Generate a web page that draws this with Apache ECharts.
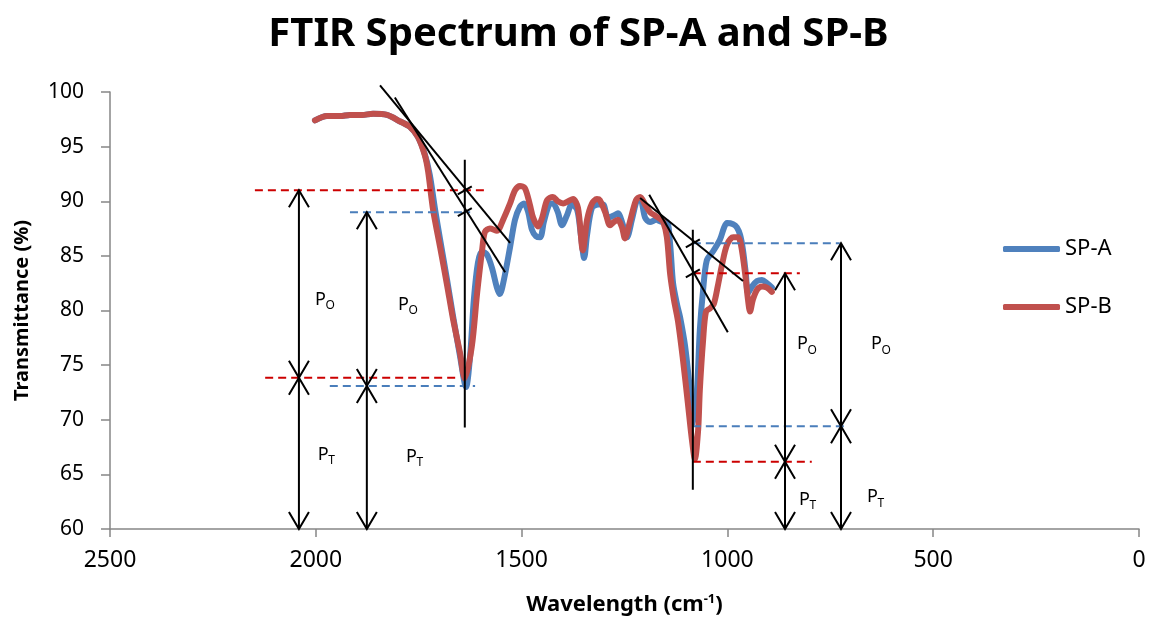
<!DOCTYPE html>
<html>
<head>
<meta charset="utf-8">
<script src="https://cdn.jsdelivr.net/npm/echarts@6/dist/echarts.min.js"></script>
<style>
  html, body { margin: 0; padding: 0; background: #ffffff; }
  #chart { width: 1157px; height: 618px; }
</style>
</head>
<body>
<div id="chart"></div>
<script>
// Spectra: [wavenumber (cm-1), transmittance (%)]
const spA = [
  [2002, 97.4], [1973, 97.8], [1941, 97.8], [1917, 97.9], [1888, 97.9], [1861, 98.0],
  [1827, 97.9], [1795, 97.3], [1771, 96.8], [1752, 95.9], [1735, 94.3], [1723, 92.4],
  [1710, 89.2], [1698, 86.5], [1681, 82.8], [1667, 79.6], [1650, 75.9], [1635, 73.0],
  [1625, 75.9], [1616, 81.0], [1606, 84.4], [1596, 85.4], [1584, 85.1], [1572, 83.9],
  [1560, 82.1], [1553, 81.5], [1543, 82.8], [1528, 85.8], [1516, 88.3], [1504, 89.5],
  [1494, 89.8], [1484, 89.0], [1475, 87.4], [1465, 86.8], [1455, 86.7], [1446, 88.1],
  [1433, 89.7], [1424, 89.8], [1412, 89.0], [1402, 87.8], [1390, 88.7], [1378, 89.7],
  [1365, 89.2], [1356, 86.9], [1348, 84.8], [1341, 86.9], [1329, 89.4], [1314, 89.7],
  [1302, 89.7], [1290, 88.5], [1276, 88.7], [1266, 88.9], [1256, 88.1], [1244, 86.7],
  [1232, 88.3], [1220, 90.1], [1212, 90.3], [1200, 88.5], [1188, 88.1], [1173, 88.3],
  [1159, 88.1], [1147, 88.1], [1139, 86.0], [1132, 82.5], [1122, 80.5], [1115, 79.4],
  [1103, 76.8], [1091, 72.7], [1084, 69.6], [1074, 72.7], [1067, 78.2], [1059, 81.9],
  [1050, 84.6], [1035, 85.4], [1018, 86.5], [1008, 87.6], [1001, 88.0], [986, 87.9],
  [977, 87.6], [969, 86.9], [962, 85.5], [955, 83.3], [950, 81.6], [940, 82.2],
  [928, 82.7], [916, 82.8], [904, 82.5], [892, 82.1]
];
const spB = [
  [2002, 97.4], [1973, 97.8], [1941, 97.8], [1917, 97.9], [1888, 97.9], [1861, 98.0],
  [1827, 97.9], [1795, 97.3], [1771, 96.8], [1752, 95.9], [1735, 94.2], [1727, 92.7],
  [1715, 89.2], [1698, 85.8], [1681, 82.3], [1667, 79.3], [1650, 76.2], [1638, 73.8],
  [1621, 76.7], [1608, 81.6], [1596, 85.5], [1589, 87.2], [1577, 87.5], [1560, 87.3],
  [1545, 88.3], [1528, 89.8], [1516, 91.0], [1504, 91.4], [1492, 91.2], [1480, 89.7],
  [1472, 88.5], [1460, 87.7], [1450, 88.5], [1438, 90.1], [1424, 90.4], [1412, 90.0],
  [1399, 89.8], [1387, 90.0], [1375, 90.2], [1363, 89.4], [1351, 85.5], [1341, 88.3],
  [1329, 89.8], [1317, 90.2], [1310, 90.1], [1297, 89.0], [1285, 87.8], [1276, 88.1],
  [1266, 88.3], [1256, 87.6], [1249, 86.6], [1237, 88.1], [1222, 90.1], [1212, 90.4],
  [1200, 89.7], [1188, 89.0], [1176, 88.7], [1164, 88.4], [1156, 88.1], [1147, 86.7],
  [1139, 83.3], [1130, 81.0], [1120, 79.0], [1108, 75.5], [1096, 71.5], [1086, 68.1],
  [1079, 66.4], [1071, 69.1], [1067, 72.7], [1059, 77.3], [1052, 79.9], [1042, 80.2],
  [1033, 80.6], [1023, 82.3], [1013, 84.2], [1001, 86.0], [986, 86.7], [974, 86.7],
  [967, 86.0], [957, 83.4], [950, 81.0], [945, 79.9], [938, 81.0], [928, 81.9],
  [916, 82.2], [904, 82.1], [892, 81.7]
];

// Baseline-method construction
// dashed guides: [from wavenumber, to wavenumber, transmittance]
const guidesA = [[1966, 1613, 73.1], [1917, 1625, 89.0], [1084, 727, 86.15], [1084, 714, 69.4]];
const guidesB = [[2148, 1584, 91.0], [2123, 1650, 73.85], [1084, 824, 83.4], [1084, 795, 66.15]];
// tangent baselines: [x1, T1, x2, T2]
const tangents = [[1844, 100.6, 1528, 86.2], [1808, 99.5, 1540, 83.5], [1212, 90.3, 962, 82.7], [1190, 90.6, 999, 78.0]];
// peak verticals: [wavenumber, top T, bottom T]
const peakLines = [[1638, 93.8, 69.3], [1084, 87.4, 63.6]];
// baseline crossings on the peak verticals: [wavenumber, T]
const crossings = [[1638, 91.0], [1638, 89.0], [1084, 86.15], [1084, 83.4]];
// double arrows: [wavenumber, P0 level, PT level, axis floor]
const arrows = [[2041, 91.0, 73.85, 60], [1876, 89.0, 73.1, 60], [860, 83.4, 66.15, 60], [724, 86.15, 69.4, 60]];
// label anchors
const labelsPO = [[2002, 81.0], [1800, 80.5], [831, 76.9], [651, 76.9]];
const labelsPT = [[1995, 66.8], [1781, 66.6], [826, 62.7], [661, 62.9]];

const xTicks = { min: 0, max: 2500, interval: 500 };
const yTicks = { min: 60, max: 100, interval: 5 };

const FONT = '"Noto Sans", "DejaVu Sans", sans-serif';
const BLUE = '#4F81BD', RED = '#C0504D';
const GUIDE_BLUE = '#4A7EBB', GUIDE_RED = '#CC0000';

function guideSeries(data, color) {
  return {
    type: 'custom', data: data, silent: true, z: 5,
    renderItem: function (params, api) {
      const a = api.coord([api.value(0), api.value(2)]);
      const b = api.coord([api.value(1), api.value(2)]);
      return { type: 'line', shape: { x1: a[0], y1: a[1], x2: b[0], y2: b[1] },
               style: { stroke: color, lineWidth: 2, lineDash: [8, 5] } };
    }
  };
}

function chevron(x, y, dir) {
  // open arrow head with its tip at (x, y); dir -1 points up, +1 points down
  return { type: 'polyline', shape: { points: [[x - 10, y - dir * 17], [x, y], [x + 10, y - dir * 17]] },
           style: { stroke: '#000', lineWidth: 2, fill: null } };
}

function labelSeries(data, sub) {
  return {
    type: 'custom', data: data, silent: true, z: 6,
    renderItem: function (params, api) {
      const p = api.coord([api.value(0), api.value(1)]);
      return { type: 'group', children: [
        { type: 'text', x: p[0], y: p[1], style: { text: 'P', font: '18px ' + FONT, fill: '#000', align: 'left', verticalAlign: 'middle' } },
        { type: 'text', x: p[0] + 10.5, y: p[1] + 6, style: { text: sub, font: '12px ' + FONT, fill: '#000', align: 'left', verticalAlign: 'middle' } }
      ] };
    }
  };
}

const chart = echarts.init(document.getElementById('chart'), null, { renderer: 'canvas' });
chart.setOption({
  animation: false,
  backgroundColor: '#ffffff',
  title: {
    text: 'FTIR Spectrum of SP-A and SP-B',
    left: 'center', top: 10,
    textStyle: { fontFamily: FONT, fontWeight: 'bold', fontSize: 40, color: '#000' }
  },
  legend: {
    data: ['SP-A', 'SP-B'],
    orient: 'vertical', left: 1003, top: 237, padding: 0,
    icon: 'roundRect', itemWidth: 57, itemHeight: 6, itemGap: 34,
    textStyle: { fontFamily: FONT, fontSize: 22, color: '#000', lineHeight: 24 }
  },
  grid: { left: 110, right: 18, top: 92, bottom: 89, containLabel: false, outerBoundsMode: 'none' },
  xAxis: {
    type: 'value', inverse: true,
    min: xTicks.min, max: xTicks.max, interval: xTicks.interval,
    name: 'Wavelength (cm{sup|-1})', nameLocation: 'middle', nameGap: 64,
    nameTextStyle: {
      fontFamily: FONT, fontWeight: 'bold', fontSize: 22, color: '#000',
      rich: { sup: { fontFamily: FONT, fontWeight: 'bold', fontSize: 13, color: '#000', padding: [0, 0, 10, 0] } }
    },
    axisLine: { onZero: false, lineStyle: { color: '#868686', width: 1.5 } },
    axisTick: { show: true, length: 8, lineStyle: { color: '#868686', width: 1.5 } },
    axisLabel: { fontFamily: FONT, fontSize: 23, color: '#000', margin: 20,
                 formatter: function (v) { return String(v); } },
    splitLine: { show: false }
  },
  yAxis: {
    type: 'value',
    min: yTicks.min, max: yTicks.max, interval: yTicks.interval,
    name: 'Transmittance (%)', nameLocation: 'middle', nameGap: 78, nameRotate: 90,
    nameTextStyle: { fontFamily: FONT, fontWeight: 'bold', fontSize: 20, color: '#000' },
    axisLine: { show: true, onZero: false, lineStyle: { color: '#868686', width: 1.5 } },
    axisTick: { show: true, length: 9, lineStyle: { color: '#868686', width: 1.5 } },
    axisLabel: { fontFamily: FONT, fontSize: 21, color: '#000', margin: 26,
                 formatter: function (v) { return String(v); } },
    splitLine: { show: false }
  },
  series: [
    { name: 'SP-A', type: 'line', data: spA, showSymbol: false, smooth: 0.3, z: 2,
      color: BLUE, lineStyle: { color: BLUE, width: 6, cap: 'round', join: 'round' } },
    { name: 'SP-B', type: 'line', data: spB, showSymbol: false, smooth: 0.3, z: 3,
      color: RED, lineStyle: { color: RED, width: 6, cap: 'round', join: 'round' } },
    guideSeries(guidesA, GUIDE_BLUE),
    guideSeries(guidesB, GUIDE_RED),
    {
      type: 'custom', data: tangents, silent: true, z: 6,
      renderItem: function (params, api) {
        const a = api.coord([api.value(0), api.value(1)]);
        const b = api.coord([api.value(2), api.value(3)]);
        return { type: 'line', shape: { x1: a[0], y1: a[1], x2: b[0], y2: b[1] }, style: { stroke: '#000', lineWidth: 2 } };
      }
    },
    {
      type: 'custom', data: peakLines, silent: true, z: 6,
      renderItem: function (params, api) {
        const a = api.coord([api.value(0), api.value(1)]);
        const b = api.coord([api.value(0), api.value(2)]);
        return { type: 'line', shape: { x1: a[0], y1: a[1], x2: b[0], y2: b[1] }, style: { stroke: '#000', lineWidth: 2 } };
      }
    },
    {
      type: 'custom', data: crossings, silent: true, z: 6,
      renderItem: function (params, api) {
        const p = api.coord([api.value(0), api.value(1)]);
        return { type: 'line', shape: { x1: p[0] - 7, y1: p[1] + 4, x2: p[0] + 7, y2: p[1] - 4 }, style: { stroke: '#000', lineWidth: 2 } };
      }
    },
    {
      type: 'custom', data: arrows, silent: true, z: 6,
      renderItem: function (params, api) {
        const top = api.coord([api.value(0), api.value(1)]);
        const mid = api.coord([api.value(0), api.value(2)]);
        const bot = api.coord([api.value(0), api.value(3)]);
        const x = top[0];
        return { type: 'group', children: [
          { type: 'line', shape: { x1: x, y1: top[1], x2: x, y2: bot[1] }, style: { stroke: '#000', lineWidth: 2 } },
          chevron(x, top[1], -1),
          chevron(x, mid[1], 1),
          chevron(x, mid[1], -1),
          chevron(x, bot[1], 1)
        ] };
      }
    },
    labelSeries(labelsPO, 'O'),
    labelSeries(labelsPT, 'T')
  ]
});
</script>
</body>
</html>
